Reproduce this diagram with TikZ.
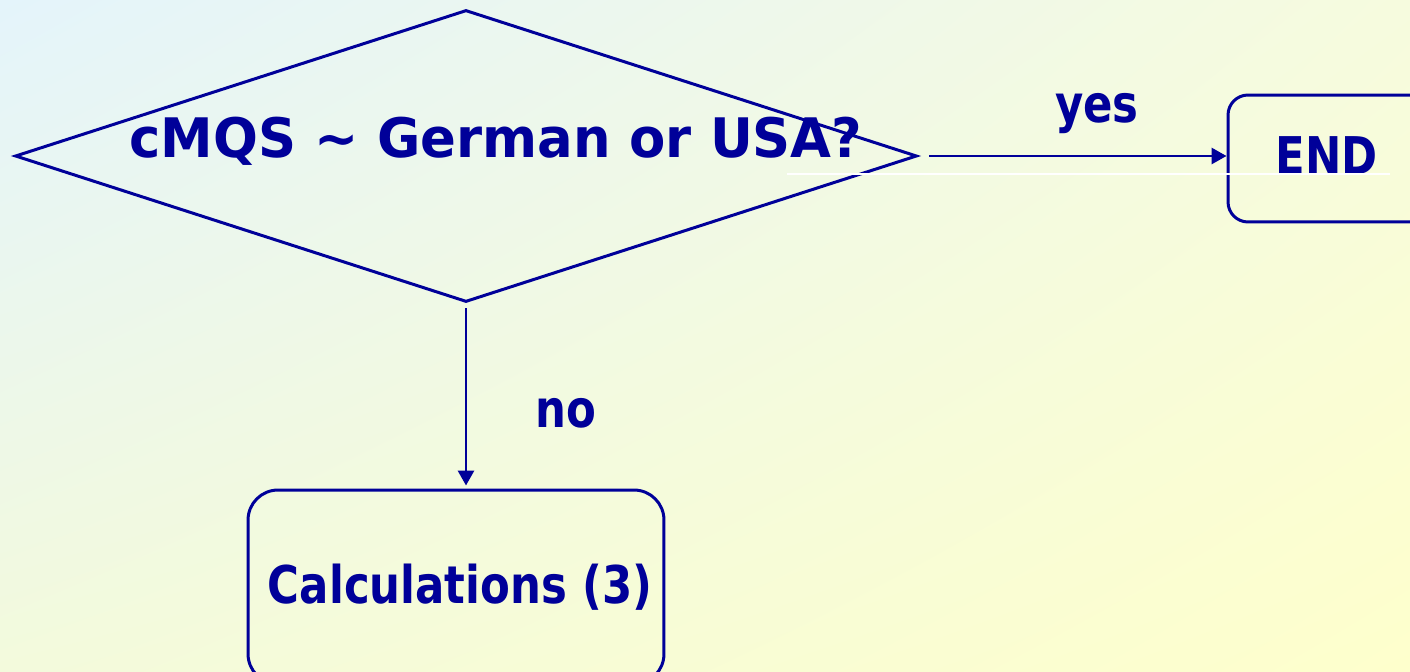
\documentclass[tikz,border=0pt]{standalone}
\usepackage{fontspec}
\setmainfont{DejaVu Sans}[FakeStretch=0.835]
\newfontfamily\titlefont{DejaVu Sans}[FakeStretch=0.97]
\usepackage{tikz}
\usetikzlibrary{shapes.geometric,arrows.meta,shadings}
\definecolor{flowblue}{RGB}{0,0,153}
\definecolor{bgul}{RGB}{228,244,251}
\definecolor{bgur}{RGB}{246,251,222}
\definecolor{bgll}{RGB}{243,250,220}
\definecolor{bglr}{RGB}{254,255,204}
\tikzset{
  txt/.style={text=flowblue,font=\fontsize{29.6}{34}\selectfont\bfseries,inner sep=0pt},
  outline/.style={draw=flowblue,line width=1.7pt},
  link/.style={draw=flowblue,line width=1.7pt,-{Triangle[length=0.3cm,width=0.32cm]}}
}
\begin{document}
\begin{tikzpicture}[x=0.02cm,y=-0.02cm]
      \useasboundingbox (0,0) rectangle (1410,672);
      \clip (0,0) rectangle (1410,672);
      \shade[upper left=bgul,upper right=bgur,lower left=bgll,lower right=bglr]
        (0,0) rectangle (1410,672);
      % shapes
      \node[outline,diamond,minimum width=18.04cm,minimum height=5.84cm,inner sep=0pt] at (466,156) (Q) {};
      \node[outline,rounded corners=0.4cm,minimum width=4cm,minimum height=2.54cm] at (1328,158.5) (E) {};
      \node[outline,rounded corners=0.6cm,minimum width=8.32cm,minimum height=3.88cm] at (456,587) (C) {};
      % texts
      \node[txt,font=\titlefont\fontsize{31}{36}\selectfont\bfseries,anchor=base] at (496,158) (Qt) {cMQS \char`\~{} German or USA?};
      \node[txt,anchor=base] at (1327,175) (Et) {END};
      \node[txt,anchor=base] at (460,603) (Ct) {Calculations (3)};
      \node[txt,anchor=base] at (1097,123) (Y) {yes};
      \node[txt,anchor=base] at (566,427) (N) {no};
      % arrows
      \draw[link,shorten <=0.22cm] (Q.east) -- (Q.east -| E.west);
      \draw[link,shorten <=0.1cm,shorten >=0.06cm] (Q.south) -- (Q.south |- C.north);
      \draw[white,line width=1.2pt] (787,174) -- (1390,174);
    \end{tikzpicture}
\end{document}
